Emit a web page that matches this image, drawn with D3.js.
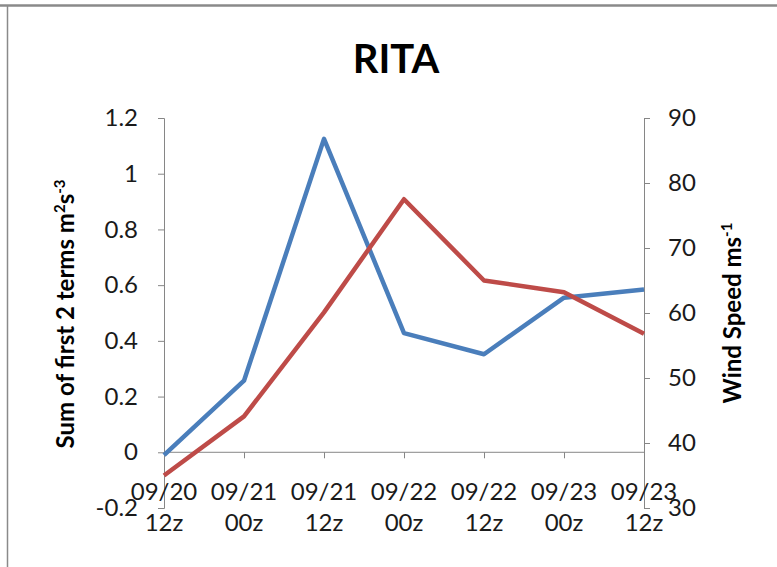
<!DOCTYPE html>
<html>
<head>
<meta charset="utf-8">
<script src="https://cdn.jsdelivr.net/npm/d3@7"></script>
<style>
  html, body { margin: 0; padding: 0; background: #fff; }
  svg { display: block; font-family: Lato, "Open Sans", sans-serif; }
</style>
</head>
<body>
<svg id="chart" width="777" height="567"></svg>
<script>
// Observation times (date / synoptic hour)
const dates = ["09/20", "09/21", "09/21", "09/22", "09/22", "09/23", "09/23"];
const hours = ["12z", "00z", "12z", "00z", "12z", "00z", "12z"];
// Sum of first 2 terms (m^2 s^-3), left axis
const sumTerms = [-0.01, 0.257, 1.125, 0.428, 0.352, 0.555, 0.584];
// Wind speed (m/s), right axis
const windSpeed = [35.0, 44.1, 60.1, 77.5, 65.0, 63.2, 56.8];
// Axis ticks
const leftTicks = [-0.2, 0, 0.2, 0.4, 0.6, 0.8, 1, 1.2];
const rightTicks = [30, 40, 50, 60, 70, 80, 90];

const svg = d3.select("#chart");
const W = 777, H = 567;
const plot = { left: 164, right: 644, top: 118, bottom: 508 };
const axisColor = "#868686";
const textColor = "#1a1a1a";

// Outer frame (top and left edges)
svg.append("line").attr("x1", 0).attr("x2", W).attr("y1", 5.5).attr("y2", 5.5)
  .attr("stroke", "#8a8a8a").attr("stroke-width", 2.5);
svg.append("line").attr("x1", 7.5).attr("x2", 7.5).attr("y1", 5).attr("y2", H)
  .attr("stroke", "#8a8a8a").attr("stroke-width", 1.5);

const keys = d3.range(dates.length);
const x = d3.scalePoint().domain(keys).range([plot.left, plot.right]);
const yL = d3.scaleLinear().domain([-0.2, 1.2]).range([plot.bottom, plot.top]);
const yR = d3.scaleLinear().domain([30, 90]).range([plot.bottom, plot.top]);

// Plain hyphen for negatives
const fmtL = d => d3.format("~g")(d).replace("\u2212", "-");

// Left axis
const gL = svg.append("g").attr("transform", `translate(${plot.left},0)`)
  .call(d3.axisLeft(yL).tickValues(leftTicks).tickSize(6).tickPadding(20)
    .tickFormat(fmtL));
// Right axis
const gR = svg.append("g").attr("transform", `translate(${plot.right},0)`)
  .call(d3.axisRight(yR).tickValues(rightTicks).tickSize(6).tickPadding(18));
// Category axis at y = 0
const gX = svg.append("g").attr("transform", `translate(0,${yL(0)})`)
  .call(d3.axisBottom(x).tickSize(6).tickFormat(() => ""));

[gL, gR, gX].forEach(g => {
  g.select(".domain").attr("stroke", axisColor).attr("stroke-width", 1);
  g.selectAll(".tick line").attr("stroke", axisColor).attr("stroke-width", 1);
  g.selectAll(".tick text").attr("fill", textColor)
    .style("font-size", "24px").style("font-family", "Lato, sans-serif");
});
gX.select(".domain").attr("d", `M${plot.left},0H${plot.right}`);
gX.selectAll(".tick").filter(d => d === 0 || d === keys.length - 1).select("line").remove();

// Two-line category labels
const catLabels = svg.append("g").attr("fill", textColor)
  .style("font-size", "24px").attr("text-anchor", "middle");
keys.forEach(i => {
  const t = catLabels.append("text").attr("x", x(i));
  t.append("tspan").attr("x", x(i)).attr("y", 500).text(dates[i]);
  t.append("tspan").attr("x", x(i)).attr("y", 531).text(hours[i]);
});

// Series lines
const lineL = d3.line().x((d, i) => x(i)).y(d => yL(d));
const lineR = d3.line().x((d, i) => x(i)).y(d => yR(d));
svg.append("path").datum(sumTerms).attr("d", lineL)
  .attr("fill", "none").attr("stroke", "#4a7ebb").attr("stroke-width", 4.5)
  .attr("stroke-linejoin", "round");
svg.append("path").datum(windSpeed).attr("d", lineR)
  .attr("fill", "none").attr("stroke", "#be4b48").attr("stroke-width", 4.5)
  .attr("stroke-linejoin", "round");

// Title
svg.append("text").attr("x", 396).attr("y", 73).attr("text-anchor", "middle")
  .attr("fill", "#000").style("font-size", "40px").style("font-weight", "bold")
  .text("RITA");

// Axis titles
const tL = svg.append("text")
  .attr("transform", "translate(74,314) rotate(-90)")
  .attr("text-anchor", "middle").attr("fill", "#000")
  .style("font-size", "24px").style("font-weight", "bold");
tL.append("tspan").text("Sum of first 2 terms m");
tL.append("tspan").attr("baseline-shift", "super").style("font-size", "15px").text("2");
tL.append("tspan").text("s");
tL.append("tspan").attr("baseline-shift", "super").style("font-size", "15px").text("-3");

const tR = svg.append("text")
  .attr("transform", "translate(741,313) rotate(-90)")
  .attr("text-anchor", "middle").attr("fill", "#000")
  .style("font-size", "24px").style("font-weight", "bold");
tR.append("tspan").text("Wind Speed ms");
tR.append("tspan").attr("baseline-shift", "super").style("font-size", "15px").text("-1");
</script>
</body>
</html>
